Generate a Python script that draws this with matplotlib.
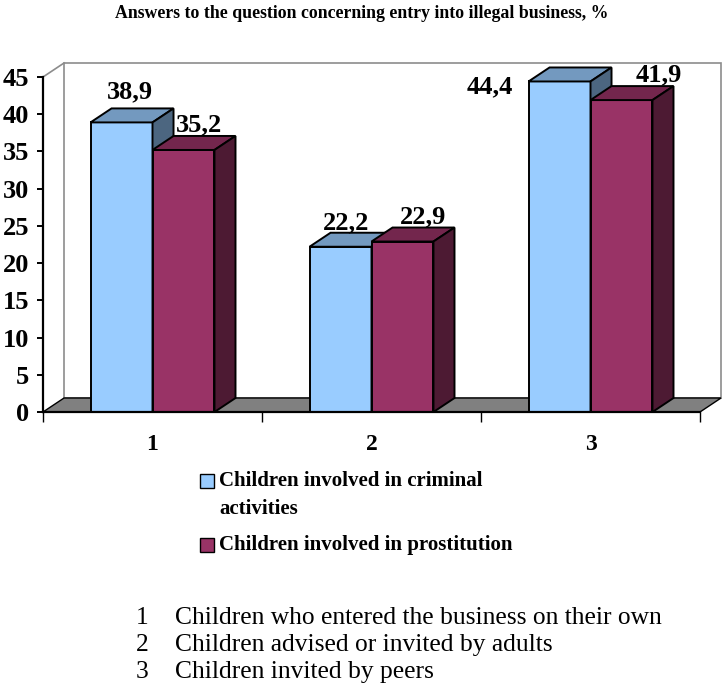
import matplotlib
matplotlib.use("Agg")
import matplotlib.pyplot as plt
from matplotlib.patches import Polygon, Rectangle

# ---- data ----
categories = ["1", "2", "3"]
criminal = [38.9, 22.2, 44.4]
prostitution = [35.2, 22.9, 41.9]
value_labels_crim = ["38,9", "22,2", "44,4"]
value_labels_pros = ["35,2", "22,9", "41,9"]
series_names = ["Children involved in criminal\nactivities",
                "Children involved in prostitution"]
footnotes = [("1", "Children who entered the business on their own"),
             ("2", "Children advised or invited by adults"),
             ("3", "Children invited by peers")]
title = "Answers to the question concerning entry into illegal business, %"
yticks = [0, 5, 10, 15, 20, 25, 30, 35, 40, 45]

# ---- style ----
SERIF = "Liberation Serif"
blue_front, blue_top, blue_side = "#99CCFF", "#7399BF", "#4C6680"
mar_front, mar_top, mar_side = "#993366", "#73264D", "#4D1A33"
floor_c = "#808080"
W = 0.283             # bar width (category units)
DX, DY = 0.096, 1.88  # depth offset (x units, y units)
YMAX = 45

fig = plt.figure(figsize=(7.23, 6.89), dpi=100)
ax = fig.add_axes([43/723, (689-412)/689, 657/723, 335/689])
ax.set_xlim(0, 3)
ax.set_ylim(0, YMAX)
for s in ["top", "right", "bottom"]:
    ax.spines[s].set_visible(False)
ax.spines["left"].set_linewidth(1.6)
ax.spines["left"].set_zorder(10)

# back wall + left wall top edge
ax.add_patch(Polygon([(DX, DY), (3 + DX, DY), (3 + DX, YMAX + DY), (DX, YMAX + DY)],
                     closed=True, facecolor="white", edgecolor="#8c8c8c", lw=1.2,
                     clip_on=False, zorder=1))
ax.plot([0, DX], [YMAX, YMAX + DY], color="#8c8c8c", lw=1.2, clip_on=False, zorder=1)
# floor
ax.add_patch(Polygon([(0, 0), (3, 0), (3 + DX, DY), (DX, DY)], closed=True,
                     facecolor=floor_c, edgecolor="black", lw=1.0,
                     clip_on=False, zorder=2))


def bar3d(x0, h, front, top, side, z):
    ax.add_patch(Rectangle((x0, 0), W, h, facecolor=front, edgecolor="black",
                           lw=1.4, clip_on=False, zorder=z))
    ax.add_patch(Polygon([(x0, h), (x0 + W, h), (x0 + W + DX, h + DY), (x0 + DX, h + DY)],
                         closed=True, facecolor=top, edgecolor="black", lw=1.4,
                         clip_on=False, zorder=z))
    ax.add_patch(Polygon([(x0 + W, 0), (x0 + W + DX, DY), (x0 + W + DX, h + DY), (x0 + W, h)],
                         closed=True, facecolor=side, edgecolor="black", lw=1.4,
                         clip_on=False, zorder=z))


for i in range(len(categories)):
    c = i + 0.5
    bar3d(c - W, criminal[i], blue_front, blue_top, blue_side, 3 + 2 * i)
    bar3d(c, prostitution[i], mar_front, mar_top, mar_side, 4 + 2 * i)

# value labels (offsets relative to bar centre)
lab_off_c = [(0.04, 4.1), (0.025, 3.2), (-0.32, -0.7)]
lab_off_p = [(0.07, 3.4), (0.094, 3.3), (0.17, 3.4)]
lkw = dict(ha="center", va="center", fontsize=19, fontweight="bold",
           family=SERIF, zorder=20, clip_on=False)
for i in range(len(categories)):
    c = i + 0.5
    ax.text(c - W / 2 + lab_off_c[i][0], criminal[i] + lab_off_c[i][1],
            value_labels_crim[i], **lkw)
    ax.text(c + W / 2 + lab_off_p[i][0], prostitution[i] + lab_off_p[i][1],
            value_labels_pros[i], **lkw)

# y axis
ax.set_yticks(yticks)
ax.set_yticklabels([str(v) for v in yticks], fontsize=19, fontweight="bold",
                   family=SERIF)
ax.tick_params(axis="y", direction="out", length=4, width=1.4, pad=6)

# x axis line and ticks
ax.plot([0, 3], [0, 0], color="black", lw=1.6, clip_on=False, zorder=12)
ax.set_xticks([0, 1, 2, 3])
ax.set_xticklabels([])
ax.tick_params(axis="x", direction="out", length=7, width=1.0)
ax.set_xticks([0.5, 1.5, 2.5], minor=True)
ax.set_xticklabels(categories, minor=True, fontsize=17, fontweight="bold",
                   family=SERIF)
ax.tick_params(axis="x", which="minor", length=0, pad=16)

# title
fig.text(0.5, 1 - 14/689, title, ha="center", va="center", fontsize=12.8,
         fontweight="bold", family=SERIF)

# legend (manual)
leg_y = [480, 544]
leg_cols = [blue_front, mar_front]
for k in range(2):
    fig.patches.append(Rectangle((200/723, 1 - (leg_y[k] + 7.5)/689), 14/723, 14/689,
                                 transform=fig.transFigure, facecolor=leg_cols[k],
                                 edgecolor="black", lw=1.0))
    fig.text(219/723, 1 - (leg_y[k] - 9)/689, series_names[k], ha="left", va="top",
             fontsize=15, fontweight="bold", family=SERIF, linespacing=1.5)

# footnotes
for k, (num, txt) in enumerate(footnotes):
    y = 1 - (624 + k * 27) / 689
    fig.text(142/723, y, num, ha="center", va="baseline", fontsize=18.4, family=SERIF)
    fig.text(175/723, y, txt, ha="left", va="baseline", fontsize=18.4, family=SERIF)

fig.savefig("out.png", dpi=100)
